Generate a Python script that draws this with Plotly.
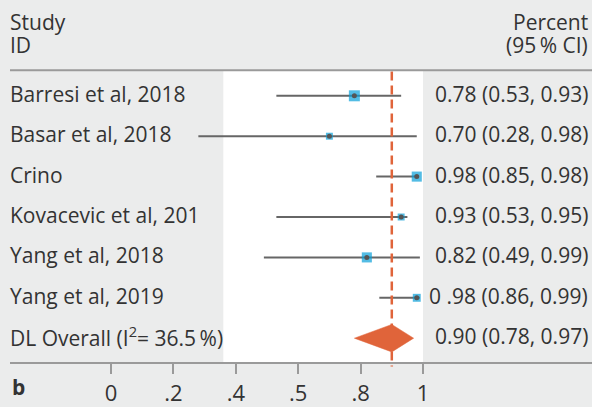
import plotly.graph_objects as go

studies = ["Barresi et al, 2018", "Basar et al, 2018", "Crino", "Kovacevic et al, 201",
           "Yang et al, 2018", "Yang et al, 2019"]
est = [0.78, 0.70, 0.98, 0.93, 0.82, 0.98]
lo = [0.53, 0.28, 0.85, 0.53, 0.49, 0.86]
hi = [0.93, 0.98, 0.98, 0.95, 0.99, 0.99]
weights = [25, 10, 21, 10, 21, 13]
ci_text = ["0.78 (0.53, 0.93)", "0.70 (0.28, 0.98)", "0.98 (0.85, 0.98)",
           "0.93 (0.53, 0.95)", "0.82 (0.49, 0.99)", "0 .98 (0.86, 0.99)"]
overall_label = "DL Overall (I<sup>2</sup>= 36.5\u2009%)"
overall_est, overall_lo, overall_hi = 0.90, 0.78, 0.97
overall_text = "0.90 (0.78, 0.97)"
tick_vals = [0, 0.2, 0.4, 0.6, 0.8, 1]
tick_text = ["0", ".2", ".4", ".5", ".8", "1"]

W, H = 592, 407
FONT = "Open Sans"
TXT = "#333333"
GRAY_BG = "#ebecec"
ORANGE = "#e0643a"
BLUE = "#0aa0d8"

rows = list(range(len(studies)))
ov_row = len(studies)

def py(px):
    return 1 - px / H

fig = go.Figure()

# white panel
fig.add_shape(type="rect", xref="x", yref="paper", x0=0.36, x1=1.0, y0=py(368), y1=py(71),
              fillcolor="white", line_width=0, layer="below")
# header separator
fig.add_shape(type="line", xref="paper", yref="paper", x0=10 / W, x1=1, y0=py(71), y1=py(71),
              line=dict(color="#9a9a9a", width=2))

# CI lines
for i in rows:
    fig.add_trace(go.Scatter(x=[lo[i], hi[i]], y=[i, i], mode="lines",
                             line=dict(color="#666666", width=2), hoverinfo="skip", showlegend=False))

# dashed overall line
fig.add_trace(go.Scatter(x=[overall_est, overall_est], y=[-0.6, 6.7], mode="lines",
                         line=dict(color=ORANGE, width=2.5, dash="9px,5px"), showlegend=False))

# squares
sizes = [2.2 * (w ** 0.5) for w in weights]
fig.add_trace(go.Scatter(x=est, y=rows, mode="markers",
                         marker=dict(symbol="square", size=sizes, color=BLUE, line_width=0),
                         showlegend=False))
fig.add_trace(go.Scatter(x=est, y=rows, mode="markers",
                         marker=dict(symbol="circle", size=5, color="#555555"),
                         showlegend=False))

# diamond
h = 0.34
fig.add_trace(go.Scatter(x=[overall_lo, overall_est, overall_hi, overall_est, overall_lo],
                         y=[ov_row, ov_row - h, ov_row, ov_row + h, ov_row],
                         mode="lines", fill="toself", fillcolor=ORANGE,
                         line=dict(color=ORANGE, width=0.5), showlegend=False))

anns = []
def ann(text, x, y, xanchor, yref="y", size=21, xref="paper"):
    anns.append(dict(text=text, x=x, y=y, xref=xref, yref=yref, xanchor=xanchor,
                     yanchor="middle", showarrow=False,
                     font=dict(family=FONT, size=size, color=TXT)))

for i in rows:
    ann(studies[i], 8 / W, i - 0.05, "left")
    ann(ci_text[i], 590 / W, i - 0.05, "right")
ann(overall_label, 8 / W, ov_row - 0.05, "left")
ann(overall_text, 590 / W, ov_row - 0.05, "right")
ann("Study", 8 / W, py(22), "left", yref="paper")
ann("ID", 8 / W, py(46), "left", yref="paper")
ann("Percent", 590 / W, py(22), "right", yref="paper")
ann("(95\u2009% CI)", 590 / W, py(46), "right", yref="paper")
ann("<b>b</b>", 10 / W, py(392), "left", yref="paper")

x0v = (10 - 111) / 312
x1v = (592 - 111) / 312
row_px = 40.9
top_px = 97
fig.update_layout(
    width=W, height=H, margin=dict(l=0, r=0, t=0, b=0),
    paper_bgcolor=GRAY_BG, plot_bgcolor=GRAY_BG,
    annotations=anns,
    xaxis=dict(domain=[10 / W, 1], range=[x0v, x1v], anchor="free", position=py(368),
               showgrid=False, zeroline=False, showline=True, linecolor="#9a9a9a", linewidth=2,
               ticks="outside", ticklen=10, tickwidth=1.5, tickcolor="#9a9a9a",
               tickvals=tick_vals, ticktext=tick_text,
               tickfont=dict(family=FONT, size=22, color=TXT)),
    yaxis=dict(range=[(H - top_px) / row_px, -top_px / row_px], visible=False, showgrid=False),
)

fig.write_html("out.html", config={"displayModeBar": False},
               post_script="document.body.style.margin='0';document.body.style.overflow='hidden';"
                           "document.documentElement.style.overflow='hidden';window.scrollTo(0,0);")
